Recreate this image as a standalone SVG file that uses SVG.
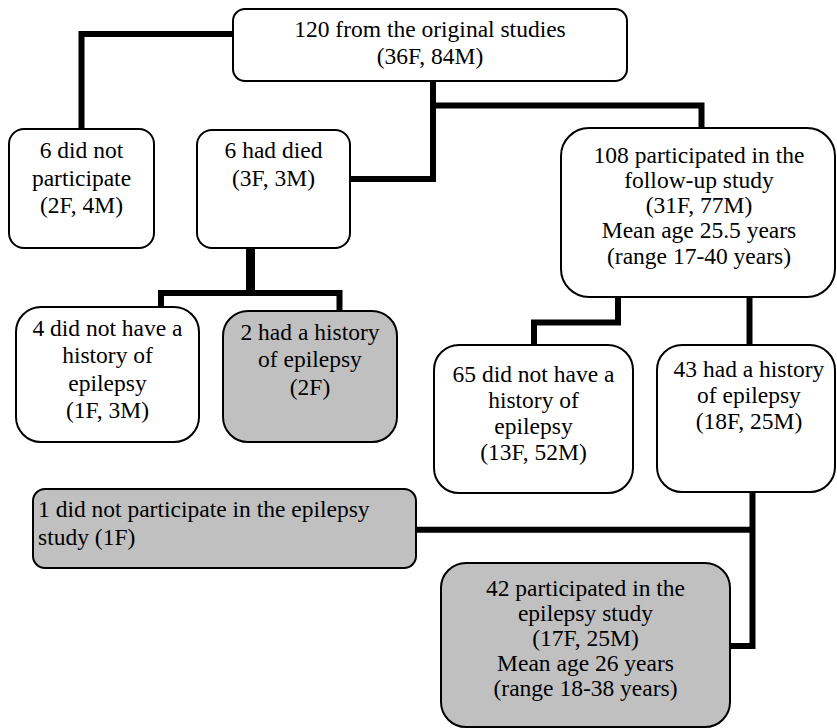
<svg xmlns="http://www.w3.org/2000/svg" width="837" height="728" viewBox="0 0 837 728" font-family="Liberation Serif, Times New Roman, serif" font-size="23.5">
<style>
.box{fill:#fff;stroke:#000;stroke-width:2}
.gray{fill:#c0c0c0}
text{fill:#000;text-anchor:middle}
text.l{text-anchor:start}
.c{fill:none;stroke:#000;stroke-width:6;stroke-linejoin:miter;stroke-linecap:butt}
</style>
<rect width="837" height="728" fill="#fff"/>
<g id="connectors">
<path class="c" d="M233,34 H81.5 V129"/>
<path class="c" d="M433,81 V179 H350"/>
<path class="c" d="M433,105.5 H701.5 V128"/>
<path class="c" style="stroke-width:9" d="M250.5,248 V293"/>
<path class="c" d="M161,307 V293 H339.5 V311"/>
<path class="c" d="M618,297 V322.5 H534 V345"/>
<path class="c" d="M749.5,297 V345"/>
<path class="c" d="M752.5,492 V646 H730"/>
<path class="c" d="M416,529.7 H752.5"/>
</g>
<g id="n-top">
<rect class="box" x="233" y="9" width="394" height="72" rx="12"/>
<text x="430" y="37">120 from the original studies</text>
<text x="430" y="63.5">(36F, 84M)</text>
</g>
<g id="n-notpart">
<rect class="box" x="9" y="129" width="145" height="119" rx="15"/>
<text x="81.5" y="158">6 did not</text>
<text x="81.5" y="185.5">participate</text>
<text x="81.5" y="213">(2F, 4M)</text>
</g>
<g id="n-died">
<rect class="box" x="197" y="130" width="153" height="118" rx="15"/>
<text x="273.5" y="158">6 had died</text>
<text x="273.5" y="186">(3F, 3M)</text>
</g>
<g id="n-108">
<rect class="box" x="561" y="128" width="274" height="169" rx="28"/>
<text x="699" y="163">108 participated in the</text>
<text x="699" y="188">follow-up study</text>
<text x="699" y="213">(31F, 77M)</text>
<text x="699" y="238">Mean age 25.5 years</text>
<text x="699" y="263.5">(range 17-40 years)</text>
</g>
<g id="n-4">
<rect class="box" x="16" y="307" width="183" height="135" rx="25"/>
<text x="107.5" y="336">4 did not have a</text>
<text x="107.5" y="363">history of</text>
<text x="107.5" y="391">epilepsy</text>
<text x="107.5" y="418">(1F, 3M)</text>
</g>
<g id="n-2">
<rect class="box gray" x="223" y="311" width="174" height="131" rx="25"/>
<text x="310" y="340">2 had a history</text>
<text x="310" y="367">of epilepsy</text>
<text x="310" y="395">(2F)</text>
</g>
<g id="n-65">
<rect class="box" x="434" y="345" width="199" height="148" rx="25"/>
<text x="533.5" y="382">65 did not have a</text>
<text x="533.5" y="408">history of</text>
<text x="533.5" y="434">epilepsy</text>
<text x="533.5" y="460">(13F, 52M)</text>
</g>
<g id="n-43">
<rect class="box" x="657" y="345" width="178" height="147" rx="25"/>
<text x="749" y="377">43 had a history</text>
<text x="749" y="403">of epilepsy</text>
<text x="749" y="429">(18F, 25M)</text>
</g>
<g id="n-1">
<rect class="box gray" x="33" y="489" width="383" height="79" rx="12"/>
<text class="l" x="38" y="517">1 did not participate in the epilepsy</text>
<text class="l" x="38" y="545">study (1F)</text>
</g>
<g id="n-42">
<rect class="box gray" x="441" y="563" width="289" height="164" rx="25"/>
<text x="585.5" y="596">42 participated in the</text>
<text x="585.5" y="621">epilepsy study</text>
<text x="585.5" y="646">(17F, 25M)</text>
<text x="585.5" y="671">Mean age 26 years</text>
<text x="585.5" y="696">(range 18-38 years)</text>
</g>
</svg>
